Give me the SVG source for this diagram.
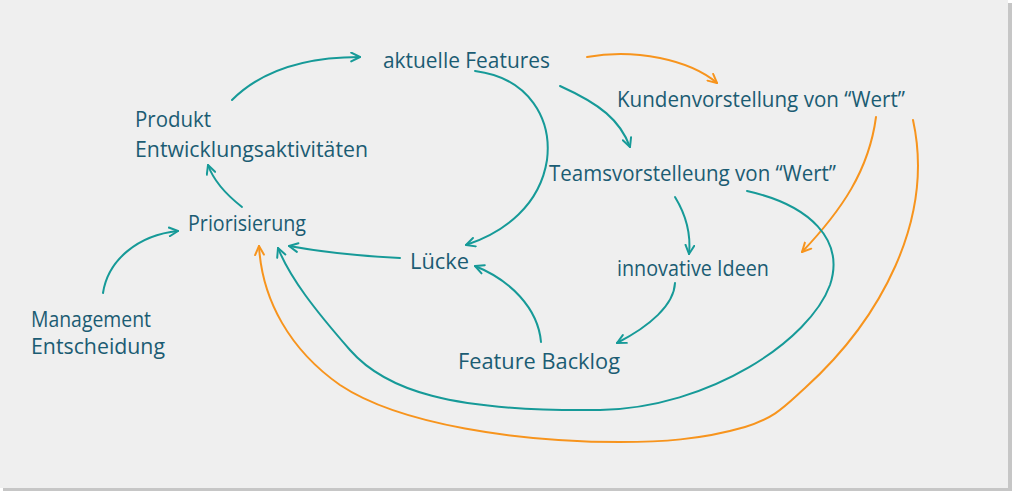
<svg xmlns="http://www.w3.org/2000/svg" width="1012" height="491" viewBox="0 0 1012 491">
<style>
.lbl{font-family:"Open Sans","Liberation Sans",sans-serif;font-size:21px;fill:#1b5c73;}
.t{fill:none;stroke:#169a98;stroke-width:2;stroke-linecap:round;}
.o{fill:none;stroke:#f7941d;stroke-width:2;stroke-linecap:round;}
</style>
<defs>
<marker id="at" viewBox="0 0 10 10" refX="9" refY="5" markerWidth="11" markerHeight="11" markerUnits="userSpaceOnUse" orient="auto">
<path d="M1,1 L9,5 L1,9" fill="none" stroke="#169a98" stroke-width="1.8" stroke-linecap="round" stroke-linejoin="round"/>
</marker>
<marker id="ao" viewBox="0 0 10 10" refX="9" refY="5" markerWidth="11" markerHeight="11" markerUnits="userSpaceOnUse" orient="auto">
<path d="M1,1 L9,5 L1,9" fill="none" stroke="#f7941d" stroke-width="1.8" stroke-linecap="round" stroke-linejoin="round"/>
</marker>
</defs>
<rect x="0" y="0" width="1012" height="491" fill="#ffffff"/>
<rect x="3" y="3" width="1009" height="488" fill="#c6c6c6"/>
<rect x="0" y="0" width="1008" height="488" fill="#efefef"/>
<g id="connectors">
<path class="t" marker-end="url(#at)" d="M232,100 C262,70 305,57 360,57"/>
<path class="t" marker-end="url(#at)" d="M242,207 C228,196 214,182 208,165"/>
<path class="t" marker-end="url(#at)" d="M103,293 C108,260 138,235 178,231"/>
<path class="t" marker-end="url(#at)" d="M400,258 C360,256 322,252 289,246"/>
<path class="t" marker-end="url(#at)" d="M475,71 C530,78 552,120 547,160 C540,205 505,232 466,245"/>
<path class="t" marker-end="url(#at)" d="M560,86 C600,104 620,120 630,147"/>
<path class="o" marker-end="url(#ao)" d="M587,57 C635,48 690,60 717,83"/>
<path class="t" marker-end="url(#at)" d="M541,342 C538,308 510,280 475,266"/>
<path class="t" marker-end="url(#at)" d="M675,197 C686,215 691,235 689,254"/>
<path class="t" marker-end="url(#at)" d="M675,283 C674,305 650,326 617,343"/>
<path class="o" marker-end="url(#ao)" d="M876,117 C869,170 842,210 802,252"/>
<path class="t" marker-end="url(#at)" d="M747,191 C810,205 845,240 830,285 C810,340 710,408 600,410 C450,412 385,390 350,350 C315,310 290,278 278,248"/>
<path class="o" marker-end="url(#ao)" d="M913,120 C935,220 880,320 805,388 C785,406 775,418 745,427 C700,440 660,442 620,442 C520,442 400,425 340,385 C290,350 262,300 259,246"/>
</g>
<g id="aktuelle-features"><text class="lbl" x="383" y="68" textLength="167" lengthAdjust="spacingAndGlyphs">aktuelle Features</text></g>
<g id="kundenvorstellung"><text class="lbl" x="617" y="107" textLength="288" lengthAdjust="spacingAndGlyphs">Kundenvorstellung von “Wert”</text></g>
<g id="produkt"><text class="lbl" x="135" y="127" textLength="76" lengthAdjust="spacingAndGlyphs">Produkt</text><text class="lbl" x="135" y="157" textLength="233" lengthAdjust="spacingAndGlyphs">Entwicklungsaktivitäten</text></g>
<g id="teamsvorstellung"><text class="lbl" x="549" y="181" textLength="287" lengthAdjust="spacingAndGlyphs">Teamsvorstelleung von “Wert”</text></g>
<g id="priorisierung"><text class="lbl" x="188" y="231" textLength="118" lengthAdjust="spacingAndGlyphs">Priorisierung</text></g>
<g id="luecke"><text class="lbl" x="410" y="269" textLength="59" lengthAdjust="spacingAndGlyphs">Lücke</text></g>
<g id="innovative-ideen"><text class="lbl" x="617" y="276" textLength="152" lengthAdjust="spacingAndGlyphs">innovative Ideen</text></g>
<g id="management"><text class="lbl" x="31" y="327" textLength="120" lengthAdjust="spacingAndGlyphs">Management</text><text class="lbl" x="31" y="354" textLength="134" lengthAdjust="spacingAndGlyphs">Entscheidung</text></g>
<g id="feature-backlog"><text class="lbl" x="458" y="369" textLength="162" lengthAdjust="spacingAndGlyphs">Feature Backlog</text></g>
</svg>
